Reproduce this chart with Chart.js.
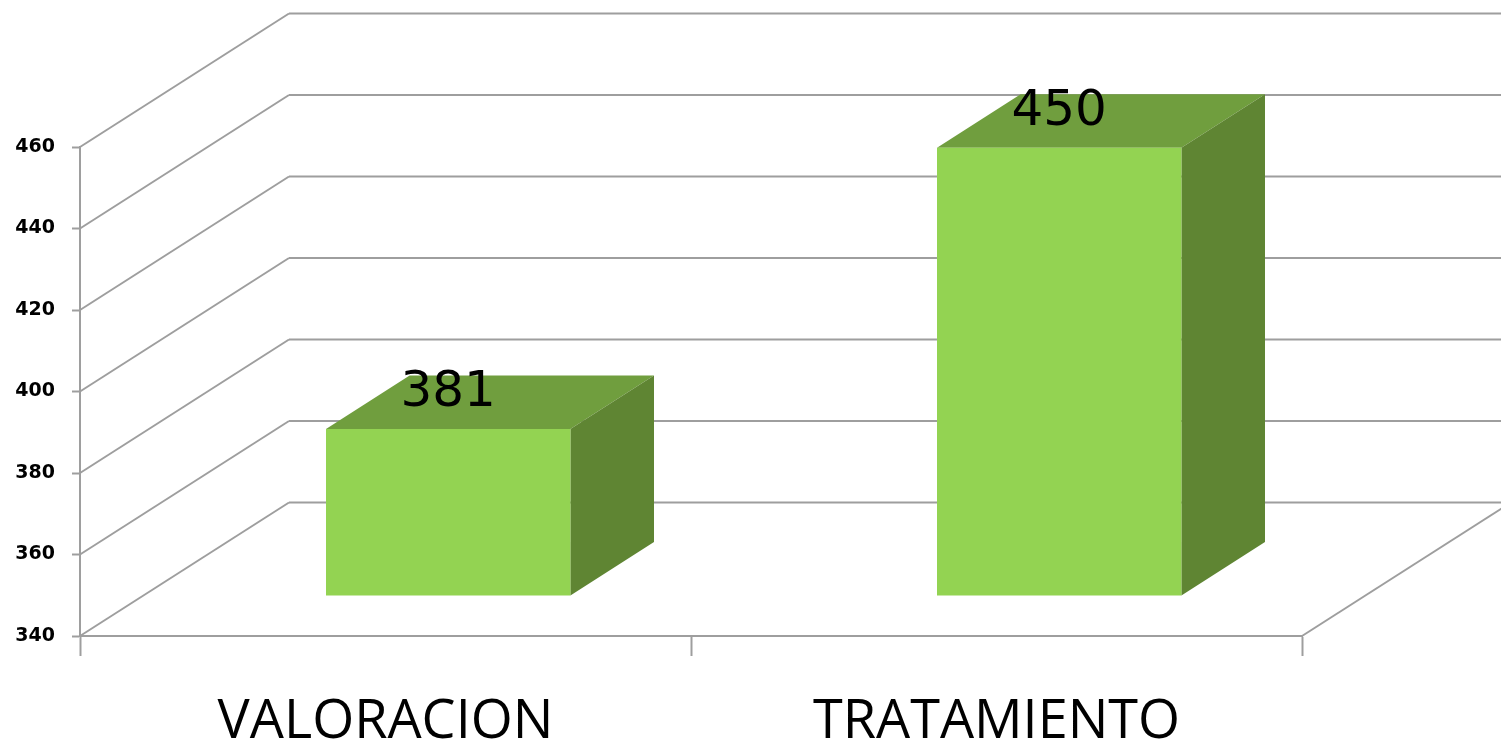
<!DOCTYPE html>
<html>
<head>
<meta charset="utf-8">
<title>Valoracion / Tratamiento</title>
<script src="https://cdn.jsdelivr.net/npm/chart.js@4/dist/chart.umd.min.js"></script>
<style>
    html, body { margin: 0; padding: 0; background: #fff; }
    #wrap { width: 1501px; height: 743px; }
</style>
</head>
<body>
<div id="wrap"><canvas id="chart" width="1501" height="743"></canvas></div>
<script>
var categories = ['VALORACION', 'TRATAMIENTO'];
var seriesValues = [381, 450];
var tickValues = [340, 360, 380, 400, 420, 440, 460];

// depth of the fake 3D box, in pixels
var depthX = 209;
var depthY = -133.5;
var barNear = 0.3;
var barFar = 0.7;

var gridColor = '#9e9e9e';
var frontColor = '#93d352';
var topColor = '#709e3e';
var sideColor = '#5f8533';

function line(ctx, x1, y1, x2, y2) {
    ctx.beginPath();
    ctx.moveTo(x1, y1);
    ctx.lineTo(x2, y2);
    ctx.stroke();
}

function poly(ctx, points, color) {
    ctx.fillStyle = color;
    ctx.beginPath();
    points.forEach(function (p, i) {
        if (i === 0) ctx.moveTo(p[0], p[1]);
        else ctx.lineTo(p[0], p[1]);
    });
    ctx.closePath();
    ctx.fill();
}

var box3d = {
    id: 'box3d',
    // push the bars back to their place on the floor
    afterDatasetsUpdate: function (chart) {
        chart.getDatasetMeta(0).data.forEach(function (bar) {
            bar.x += depthX * barNear;
            bar.y += depthY * barNear;
            bar.base += depthY * barNear;
        });
    },
    beforeDatasetsDraw: function (chart) {
        var ctx = chart.ctx;
        var area = chart.chartArea;
        var y = chart.scales.y;

        ctx.save();
        ctx.strokeStyle = gridColor;
        ctx.lineWidth = 2;
        tickValues.forEach(function (v) {
            var py = y.getPixelForValue(v);
            line(ctx, area.left, py, area.left + depthX, py + depthY);
            line(ctx, area.left + depthX, py + depthY, area.right + depthX, py + depthY);
        });
        line(ctx, area.right, area.bottom, area.right + depthX, area.bottom + depthY);

        var dx = depthX * (barFar - barNear);
        var dy = depthY * (barFar - barNear);
        chart.getDatasetMeta(0).data.forEach(function (bar) {
            var left = bar.x - bar.width / 2;
            var right = bar.x + bar.width / 2;
            poly(ctx, [[left, bar.y], [right, bar.y], [right + dx, bar.y + dy], [left + dx, bar.y + dy]], topColor);
            poly(ctx, [[right, bar.y], [right + dx, bar.y + dy], [right + dx, bar.base + dy], [right, bar.base]], sideColor);
        });
        ctx.restore();
    },
    afterDatasetsDraw: function (chart) {
        var ctx = chart.ctx;
        ctx.save();
        ctx.fillStyle = '#000';
        ctx.font = '50px "DejaVu Sans"';
        ctx.textAlign = 'center';
        ctx.textBaseline = 'alphabetic';
        chart.getDatasetMeta(0).data.forEach(function (bar, i) {
            ctx.fillText(seriesValues[i], bar.x, bar.y - 23);
        });
        ctx.restore();
    }
};

new Chart(document.getElementById('chart').getContext('2d'), {
    type: 'bar',
    data: {
        labels: categories,
        datasets: [{
            data: seriesValues,
            base: tickValues[0],
            clip: false,
            backgroundColor: frontColor,
            borderWidth: 0,
            categoryPercentage: 1,
            barPercentage: 0.4
        }]
    },
    options: {
        responsive: false,
        animation: false,
        events: [],
        layout: { padding: { left: 0, top: 147, right: 199, bottom: 0 } },
        plugins: {
            legend: { display: false },
            tooltip: { enabled: false },
            title: { display: false }
        },
        scales: {
            x: {
                afterFit: function (scale) { scale.height = 107; },
                border: { color: gridColor, width: 2 },
                grid: { offset: true, drawOnChartArea: false, tickColor: gridColor, tickLength: 20, tickWidth: 2 },
                ticks: {
                    color: '#000',
                    padding: 34,
                    maxRotation: 0,
                    font: { family: '"Open Sans"', size: 54 }
                }
            },
            y: {
                min: 340,
                max: 460,
                afterFit: function (scale) { scale.width = 80; },
                afterBuildTicks: function (scale) {
                    scale.ticks = tickValues.map(function (v) { return { value: v }; });
                },
                border: { color: gridColor, width: 2 },
                grid: { drawOnChartArea: false, tickColor: gridColor, tickLength: 8, tickWidth: 2 },
                ticks: {
                    color: '#000',
                    padding: 17,
                    font: { family: '"DejaVu Sans"', size: 19, weight: 'bold' }
                }
            }
        }
    },
    plugins: [box3d]
});
</script>
</body>
</html>
